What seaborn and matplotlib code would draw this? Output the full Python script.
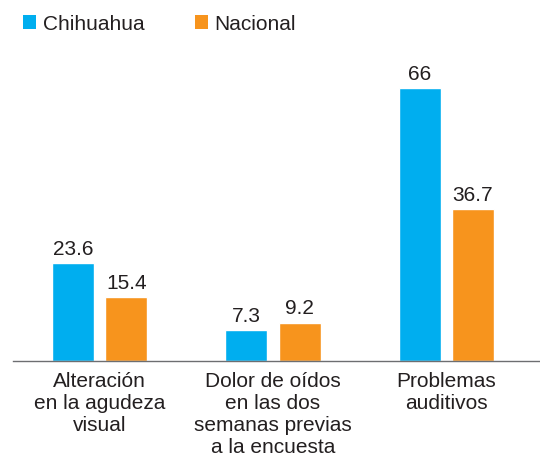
import pandas as pd
import matplotlib.pyplot as plt
import seaborn as sns
from matplotlib.patches import Patch

# Data
categorias = ["Alteración\nen la agudeza\nvisual",
              "Dolor de oídos\nen las dos\nsemanas previas\na la encuesta",
              "Problemas\nauditivos"]
chihuahua = [23.6, 7.3, 66]
nacional = [15.4, 9.2, 36.7]
series = ["Chihuahua", "Nacional"]
colores = ["#00AEEF", "#F7941D"]

df = pd.DataFrame({
    "categoria": categorias * 2,
    "valor": chihuahua + nacional,
    "serie": [series[0]] * 3 + [series[1]] * 3,
})

sns.set_style("white")
plt.rcParams['font.family'] = ['Liberation Sans', 'DejaVu Sans']
texto = "#231f20"

fig = plt.figure(figsize=(5.4, 4.57), dpi=100)
ax = fig.add_axes([13 / 540, 96.5 / 457, 1 - 13 / 540, 320.5 / 457])

sns.barplot(data=df, x="categoria", y="valor", hue="serie",
            palette=colores, width=0.613, gap=0.21, ax=ax, legend=False,
            saturation=1)

for cont in ax.containers:
    ax.bar_label(cont, fmt="%g", padding=3, fontsize=15, color=texto)

ax.set_xlim(-0.5, 2.54)
ax.set_ylim(0, 77.6)
ax.set_xlabel("")
ax.set_ylabel("")
ax.set_yticks([])
ax.tick_params(axis="x", length=0, pad=8, labelcolor=texto)
for lab in ax.get_xticklabels():
    lab.set_fontsize(15)
    lab.set_linespacing(1.2)

for s in ["top", "right", "left"]:
    ax.spines[s].set_visible(False)
ax.spines["bottom"].set_color("#6d6e71")
ax.spines["bottom"].set_linewidth(1.0)

handles = [Patch(facecolor=c, edgecolor="none") for c in colores]
fig.legend(handles, series, loc="upper left", bbox_to_anchor=(0.016, 1.0),
           ncol=2, frameon=False, fontsize=15, handlelength=0.63,
           handleheight=0.63, handletextpad=0.3, columnspacing=2.45,
           labelcolor=texto, borderaxespad=0.3)

fig.savefig("out.png", dpi=100)
